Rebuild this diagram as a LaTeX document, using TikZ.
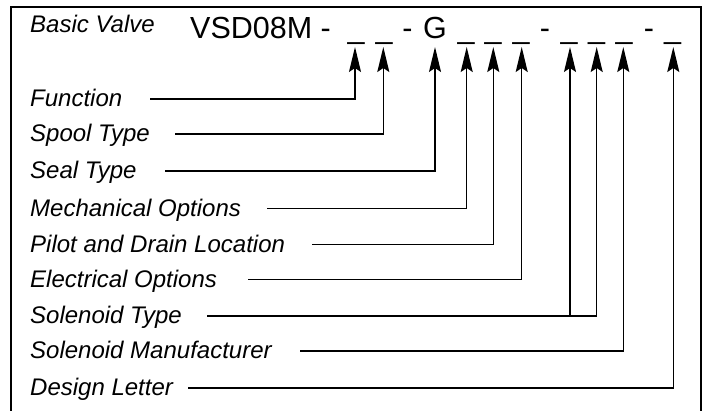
\documentclass[tikz,border=0pt]{standalone}
\usepackage{fontspec}
\setmainfont{Liberation Sans}
\usetikzlibrary{arrows.meta}
\begin{document}
\begin{tikzpicture}[x=1pt,y=-1pt,
  lbl/.style={font=\fontsize{24}{28}\selectfont\itshape, anchor=base west, inner sep=0},
  code/.style={font=\fontsize{30.5}{36}\selectfont, anchor=base, inner sep=0},
  conn/.style={line width=1.3pt, -{Stealth[length=25pt,width=12pt,inset=4pt]}},
  frame/.style={line width=1.3pt}]
\useasboundingbox (0,0) rectangle (702,410);
% frame (open at bottom)
\draw[frame] (11,412) -- (11,7) -- (701,7) -- (701,412);
% heading
\node[lbl] (basic) at (30,32) {Basic Valve};
\node[code, anchor=base west] (vsd) at (190,38) {VSD08M -};
\node[code] (u1) at (356,38) {\_};
\node[code] (u2) at (384,38) {\_};
\node[code] (d1) at (407.5,38) {-};
\node[code] (g) at (435,38) {G};
\node[code] (u3) at (466,38) {\_};
\node[code] (u4) at (493,38) {\_};
\node[code] (u5) at (521,38) {\_};
\node[code] (d2) at (545,38) {-};
\node[code] (u6) at (569,38) {\_};
\node[code] (u7) at (596.5,38) {\_};
\node[code] (u8) at (624,38) {\_};
\node[code] (d3) at (649,38) {-};
\node[code] (u9) at (672.5,38) {\_};
% arrow tips
\coordinate (t1) at (355,47);
\coordinate (t2) at (383.3,47);
\coordinate (t3) at (435,47);
\coordinate (t4) at (466.7,47);
\coordinate (t5) at (493.3,47);
\coordinate (t6) at (521.7,47);
\coordinate (t7) at (570,47);
\coordinate (t8) at (596.7,47);
\coordinate (t9) at (623.3,47);
\coordinate (t10) at (673.3,47);
% labels
\node[lbl] (l1) at (30,106.5) {Function};
\node[lbl] (l2) at (30,141.5) {Spool Type};
\node[lbl] (l3) at (30,178.5) {Seal Type};
\node[lbl] (l4) at (30,216) {Mechanical Options};
\node[lbl] (l5) at (30,252) {Pilot and Drain Location};
\node[lbl] (l6) at (30,287) {Electrical Options};
\node[lbl] (l7) at (30,323.5) {Solenoid Type};
\node[lbl] (l8) at (30,358.5) {Solenoid Manufacturer};
\node[lbl] (l9) at (30,395.5) {Design Letter};
% line starts
\coordinate (s1) at (150,99);
\coordinate (s2) at (175,134);
\coordinate (s3) at (165,171);
\coordinate (s4) at (267,208.5);
\coordinate (s5) at (312,244.5);
\coordinate (s6) at (248,279.5);
\coordinate (s7) at (207,316);
\coordinate (s8) at (300,351);
\coordinate (s9) at (188,388);
% connectors
\draw[conn] (s1) -| (t1);
\draw[conn] (s2) -| (t2);
\draw[conn] (s3) -| (t3);
\draw[conn] (s4) -| (t4);
\draw[conn] (s5) -| (t5);
\draw[conn] (s6) -| (t6);
\draw[conn] (s7) -| (t7);
\draw[conn] (s7) -| (t8);
\draw[conn] (s8) -| (t9);
\draw[conn] (s9) -| (t10);
\end{tikzpicture}
\end{document}
